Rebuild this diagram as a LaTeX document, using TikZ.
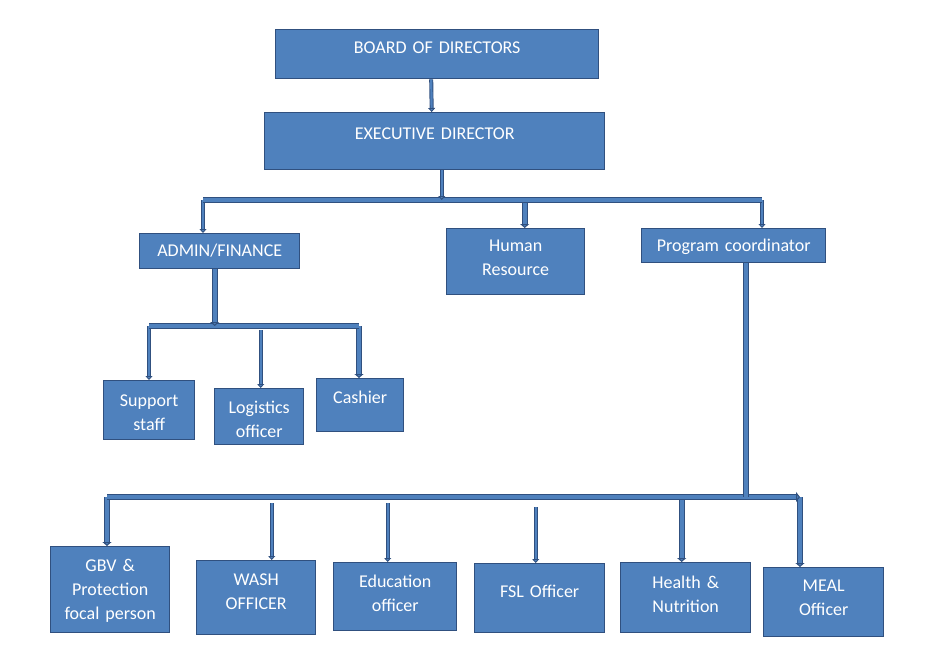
\documentclass[tikz,border=0pt]{standalone}
\usepackage{fontspec}
\setmainfont{Carlito}
\usetikzlibrary{arrows.meta}
\definecolor{boxfill}{HTML}{4F81BD}
\definecolor{edge}{HTML}{30507F}
\tikzset{
  orgbox/.style={draw=edge, line width=1.4pt, fill=boxfill, text=white, inner sep=0pt,
    anchor=north west, align=center, font=\fontsize{18}{24}\selectfont},
  link/.style={draw=edge, line width=0.9pt, double=boxfill, double distance=2.2pt,
    -{Triangle[width=7pt,length=4pt,fill=boxfill]}},
  biglink/.style={link, double distance=4pt, line width=1.1pt,
    -{Triangle[width=9pt,length=4pt,fill=boxfill]}},
  bar/.style={draw=edge, line width=1.1pt, double=boxfill, double distance=4pt}
}
\begin{document}
\begin{tikzpicture}[x=1pt,y=-1pt]
\useasboundingbox (0,0) rectangle (932,648);
% boxes
\node[orgbox, text width=323pt, text height=24pt, text depth=25pt] (bod) at (275,29) {BOARD OF DIRECTORS};
\node[orgbox, text width=340pt, text height=27pt, text depth=30pt] (ed) at (264,112) {EXECUTIVE DIRECTOR};
\node[orgbox, text width=160pt, text height=23pt, text depth=12pt] (admin) at (139,233) {ADMIN/FINANCE};
\node[orgbox, text width=138pt, text height=23pt, text depth=43pt] (hr) at (446,228) {Human\\Resource};
\node[orgbox, text width=184pt, text height=23pt, text depth=11pt] (pc) at (641,228) {Program coordinator};
\node[orgbox, text width=91pt, text height=26pt, text depth=33pt] (sup) at (103,380) {Support\\staff};
\node[orgbox, text width=89pt, text height=25pt, text depth=31pt] (log) at (214,388) {Logistics\\officer};
\node[orgbox, text width=87pt, text height=25pt, text depth=28pt] (cash) at (316,378) {Cashier};
\node[orgbox, text width=119pt, text height=25pt, text depth=61pt] (gbv) at (50,546) {GBV \&\\Protection\\focal person};
\node[orgbox, text width=119pt, text height=25pt, text depth=49pt] (wash) at (196,560) {WASH\\OFFICER};
\node[orgbox, text width=123pt, text height=25pt, text depth=43pt] (edu) at (333,562) {Education\\officer};
\node[orgbox, text width=130pt, text height=34pt, text depth=35pt] (fsl) at (474,563) {FSL Officer};
\node[orgbox, text width=130pt, text height=26pt, text depth=44pt] (hn) at (620,562) {Health \&\\Nutrition};
\node[orgbox, text width=120pt, text height=24pt, text depth=45pt] (meal) at (763,567) {MEAL\\Officer};
% bar ends
\coordinate (bar1w) at (203,200);
\coordinate (bar1e) at (762,200);
\coordinate (bar2w) at (149,326);
\coordinate (bar2e) at (359,326);
\coordinate (bar3w) at (107,497);
\coordinate (bar3e) at (800,497);
% drops from the bars
\draw[link] (bar1w) -- (bar1w |- admin.north);
\draw[biglink] ([xshift=9pt]hr.north |- bar1e) -- ([xshift=9pt]hr.north);
\draw[link] (bar1e) -- (bar1e |- pc.north);
\draw[link] (bar2w) -- (bar2w |- sup.north);
\draw[link] ([xshift=1.5pt,yshift=-4pt]log.north |- bar2w) -- ([xshift=1.5pt]log.north);
\draw[biglink] (bar2e) -- (bar2e |- cash.north);
\draw[biglink] (bar3w) -- (bar3w |- gbv.north);
\draw[link] ([xshift=15.5pt,yshift=-6pt]wash.north |- bar3w) -- ([xshift=15.5pt]wash.north);
\draw[link] ([xshift=-7.5pt,yshift=-6pt]edu.north |- bar3w) -- ([xshift=-7.5pt]edu.north);
\draw[link] ([xshift=-4pt,yshift=-10pt]fsl.north |- bar3w) -- ([xshift=-4pt]fsl.north);
\draw[biglink] ([xshift=-4pt]hn.north |- bar3w) -- ([xshift=-4pt]hn.north);
\draw[biglink] (bar3e) -- (bar3e |- meal.north);
% bars
\draw[bar] (bar1w) -- (bar1e);
\draw[bar] (bar2w) -- (bar2e);
\draw[bar, line width=1.2pt, double distance=4.5pt, -{Triangle[width=10pt,length=4pt,fill=boxfill]}] (bar3w) -- (bar3e);
% drops into the bars
\draw[link] ([xshift=-6pt]bod.south) -- ([xshift=-3pt]ed.north);
\draw[link] ([xshift=7pt]ed.south) -- ([xshift=7pt]ed.south |- bar1w);
\draw[biglink] ([xshift=-5pt]admin.south) -- ([xshift=-5pt]admin.south |- bar2w);
\draw[biglink, -] ([xshift=12pt]pc.south) -- ([xshift=12pt]pc.south |- bar3w);
\end{tikzpicture}
\end{document}
